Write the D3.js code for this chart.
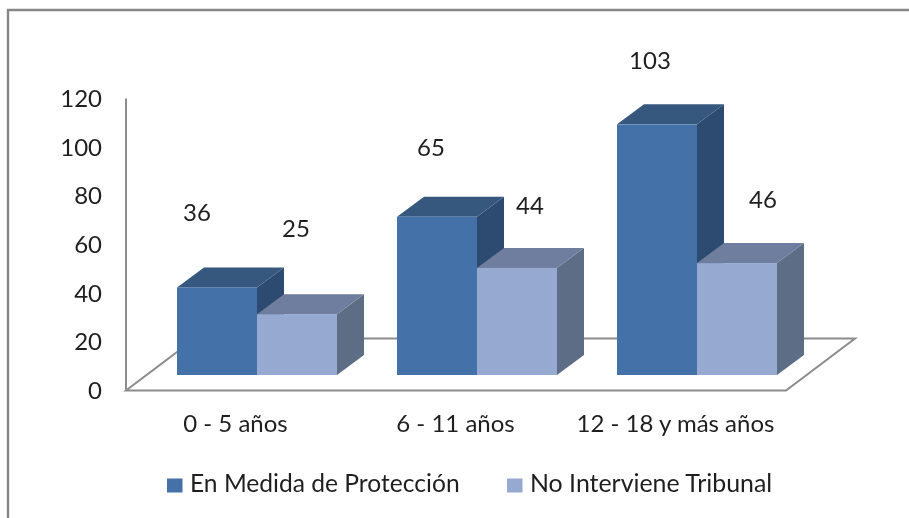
<!DOCTYPE html>
<html><head><meta charset="utf-8">
<script src="https://cdn.jsdelivr.net/npm/d3@7"></script>
<style>html,body{margin:0;padding:0;background:#fff;overflow:hidden}svg{display:block;filter:blur(0.35px)}text{font-family:Lato,"Open Sans",sans-serif;fill:#1f1f1f}</style>
</head><body><svg id="c" width="909" height="518"></svg>
<script>
const categories = ["0 - 5 años","6 - 11 años","12 - 18 y más años"];
const seriesNames = ["En Medida de Protección","No Interviene Tribunal"];
const proteccion = [36,65,103];
const tribunal = [25,44,46];
const yTicks = [0,20,40,60,80,100,120];

const colors = [
  {front:"#4471a7",top:"#36587f",side:"#2d4a70"},
  {front:"#95a9d1",top:"#6f7e9e",side:"#5e6d86"}
];
const fs=24;
const svg=d3.select("#c");
svg.append("path").attr("d",d3.line()([[909,10],[8,10],[8,518]])).attr("fill","none").attr("stroke","#868686").attr("stroke-width",2.4);

const y=d3.scaleLinear().domain([0,120]).range([390.5,98.5]);
const x=d3.scaleBand().domain(categories).range([126,786]);
const depth={dx:69,dy:-52}, bd={dx:27,dy:-20}, barW=80, baseLift=15.5;

const axisCol="#8c8c8c";
const floor=[[126,y(0)],[786,y(0)],[786+depth.dx,y(0)+depth.dy],[126+depth.dx,y(0)+depth.dy]];
svg.append("path").attr("d",d3.line()(floor)+"Z").attr("fill","#fff").attr("stroke",axisCol).attr("stroke-width",2);
svg.append("line").attr("x1",126).attr("x2",126).attr("y1",y(120)).attr("y2",y(0)).attr("stroke",axisCol).attr("stroke-width",2);

const yAxis=d3.axisLeft(y).tickValues(yTicks).tickSize(0).tickPadding(0);
const gy=svg.append("g").attr("transform","translate(102,0.2)").call(yAxis);
gy.select(".domain").remove();
gy.selectAll("text").attr("font-size",fs).style("font-family","Lato");

function bar(g,x0,v,c){
  const yb=y(0)-baseLift, yt=y(v)-baseLift;
  g.append("path").attr("d",d3.line()([[x0+barW,yt],[x0+barW+bd.dx,yt+bd.dy],[x0+barW+bd.dx,yb+bd.dy],[x0+barW,yb]])+"Z").attr("fill",c.side);
  g.append("path").attr("d",d3.line()([[x0,yt],[x0+bd.dx,yt+bd.dy],[x0+barW+bd.dx,yt+bd.dy],[x0+barW,yt]])+"Z").attr("fill",c.top);
  g.append("rect").attr("x",x0).attr("y",yt).attr("width",barW).attr("height",yb-yt).attr("fill",c.front);
}
const groupLeft=d=>x(d)+51;
categories.forEach((cat,i)=>{
  const g=svg.append("g");
  bar(g,groupLeft(cat),proteccion[i],colors[0]);
  bar(g,groupLeft(cat)+barW,tribunal[i],colors[1]);
});

categories.forEach(cat=>{
  svg.append("text").attr("x",x(cat)+x.bandwidth()/2-0.5).attr("y",432).attr("text-anchor","middle").attr("font-size",fs).text(cat);
});

const labelDx=[[20,39],[34,53],[33,66]], labelDy=[[-66,-77],[-61,-54],[-55,-55]];
[proteccion,tribunal].forEach((s,j)=>s.forEach((v,i)=>{
  svg.append("text").attr("x",groupLeft(categories[i])+barW*j+labelDx[i][j]).attr("y",y(v)-baseLift+labelDy[i][j]).attr("text-anchor","middle").attr("font-size",fs).text(v);
}));

const lx=[167,507];
seriesNames.forEach((n,i)=>{
  svg.append("rect").attr("x",lx[i]).attr("y",478.5).attr("width",15.5).attr("height",14).attr("fill",colors[i].front);
  svg.append("text").attr("x",lx[i]+23).attr("y",492).attr("font-size",i?24.9:24.6).text(n);
});
</script></body></html>
